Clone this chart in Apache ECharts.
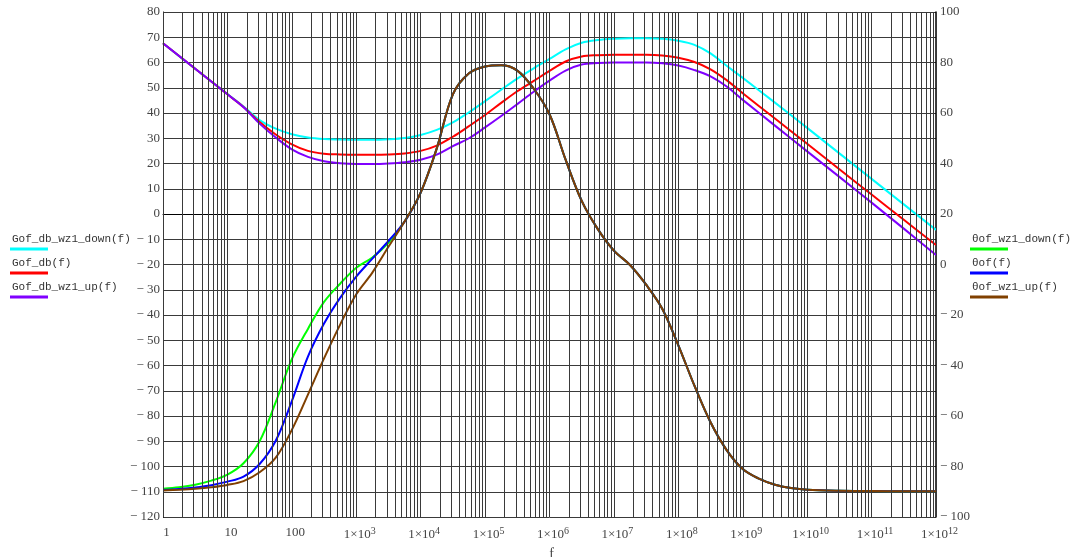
<!DOCTYPE html>
<html><head><meta charset="utf-8">
<script src="https://cdn.jsdelivr.net/npm/echarts@6/dist/echarts.min.js"></script>
<style>html,body{margin:0;padding:0;background:#fff}#c{width:1075px;height:557px}</style>
</head><body><div id="c"></div>
<script>
// ---- data (x given as log10 of frequency f) ----
const magLogF = [0,0.5,1,1.25,1.5,1.75,2,2.25,2.5,2.75,3,3.25,3.5,3.75,4,4.25,4.5,4.75,5,5.25,5.5,5.75,6,6.25,6.5,6.75,7,7.25,7.5,7.75,8,8.25,8.5,8.75,9,9.5,10,10.5,11,11.5,12];
const gofDbDown = [67.6,57.5,47.5,42.6,37.2,33.8,31.6,30.3,29.7,29.5,29.4,29.4,29.6,30.1,31.3,33.3,36.3,40.3,44.7,49.2,53.6,57.6,61.4,65.2,67.8,68.9,69.4,69.6,69.6,69.4,68.6,67.0,63.6,58.7,53.9,44.1,34.1,24.0,13.9,3.8,-6.3];
const gofDb = [67.6,57.5,47.4,42.4,36.4,31.5,27.6,25.0,23.9,23.6,23.5,23.5,23.6,24.0,25.0,27.1,30.6,34.8,39.2,44.0,48.6,52.6,56.7,60.4,62.4,62.9,63.1,63.1,63.1,62.8,61.9,60.2,57.3,53.0,47.8,37.8,27.8,17.7,7.7,-2.3,-12.3];
const gofDbUp = [67.6,57.5,47.4,42.3,35.8,30.3,25.6,22.6,20.9,20.1,19.8,19.8,20.0,20.5,21.5,23.5,26.9,30.0,34.3,38.8,43.5,48.3,52.8,56.8,59.2,59.8,60.0,60.0,60.0,59.7,58.8,57.0,54.5,50.5,45.2,35.0,24.8,14.7,4.5,-5.8,-16.2];

const phHeadLogF = [0,0.25,0.5,0.75,1,1.25,1.5,1.75,2,2.25,2.5,2.75,3,3.25,3.5];
const thetaDownHead = [-88.8,-88.2,-87.2,-85.6,-83.2,-78.7,-70.0,-54.5,-37.5,-25.5,-14.8,-7.6,-1.3,2.8,8.6];
const thetaHead = [-89.3,-88.9,-88.3,-87.4,-86.0,-84.0,-79.0,-69.8,-54.1,-36.5,-23.4,-13.2,-4.8,2.3,9.3];
const thetaUpHead = [-89.5,-89.2,-88.8,-88.2,-87.3,-85.8,-82.3,-76.5,-65.5,-51.5,-37.2,-23.8,-11.8,-3.2,7.0];
const phTailLogF = [3.75,4,4.25,4.5,4.75,5,5.25,5.5,5.75,6,6.25,6.5,6.75,7,7.25,7.5,7.75,8,8.25,8.5,8.75,9,9.25,9.5,9.75,10,10.5,11,11.5,12];
const thetaTail = [17,28.5,46,67.4,75.7,78.4,78.9,76.8,69.8,59.5,41.5,25.2,14,5.5,-0.2,-8,-17.5,-32,-48,-62.5,-73.5,-81,-84.8,-87.2,-88.5,-89.2,-89.6,-89.7,-89.8,-89.8];

const xDecades = [0,1,2,3,4,5,6,7,8,9,10,11,12];
const leftTicks = {min:-120, max:80, step:10};
const rightTicks = {min:-100, max:100, step:20};

const magNames = ['Gof_db_wz1_down(f)','Gof_db(f)','Gof_db_wz1_up(f)'];
const phNames = ['θof_wz1_down(f)','θof(f)','θof_wz1_up(f)'];
const magColors = ['#00FFFF','#FF0000','#8000FF'];
const phColors = ['#00FF00','#0000FF','#804000'];

// ---- build ----
const chart = echarts.init(document.getElementById('c'), null, {renderer:'canvas'});
const toPts = (lf, vals) => lf.map((x,i)=>[Math.pow(10,x), vals[i]]);
const gridLines = [];
xDecades.forEach(n => {
  gridLines.push({xAxis: Math.pow(10,n)});
  if (n < 12) for (let k=2;k<=9;k++) gridLines.push({xAxis: k*Math.pow(10,n)});
});
function fmtNeg(v){ return v < 0 ? '\u2212 ' + Math.abs(v) : String(v); }

const serif = 'Liberation Serif';
const mono = 'Liberation Mono';
const labelColor = '#444';
const gridColor = '#3a3a3a';

const magSeries = [gofDbDown, gofDb, gofDbUp].map((d,i)=>({
  name: magNames[i], type:'line', xAxisIndex:0, yAxisIndex:0,
  data: toPts(magLogF, d), smooth:0.35, showSymbol:false, symbol:'none',
  lineStyle:{color:magColors[i], width:2}, itemStyle:{color:magColors[i]}, z:3
}));
const phSeries = [thetaDownHead, thetaHead, thetaUpHead].map((h,i)=>({
  name: phNames[i], type:'line', xAxisIndex:0, yAxisIndex:1,
  data: toPts(phHeadLogF, h).concat(toPts(phTailLogF, thetaTail)),
  smooth:0.35, showSymbol:false, symbol:'none',
  lineStyle:{color:phColors[i], width:2}, itemStyle:{color:phColors[i]}, z:4
}));

const gridSeries = {
  type:'line', xAxisIndex:0, yAxisIndex:0, data:[], silent:true, z:1,
  markLine:{silent:true, symbol:['none','none'], animation:false, label:{show:false},
    lineStyle:{color:gridColor, width:1, type:'solid'}, emphasis:{disabled:true}, data: gridLines}
};

function legendBlock(x, y, names, colors){
  const els = [];
  names.forEach((n,i)=>{
    const ty = y + i*24;
    els.push({type:'text', left:x+2, top:ty+1, style:{text:n, font:'11px "'+mono+'"', fill:'#333'}});
    els.push({type:'line', shape:{x1:x, y1:ty+16, x2:x+38, y2:ty+16}, style:{stroke:colors[i], lineWidth:3}});
  });
  return els;
}

const option = {
  animation:false,
  backgroundColor:'#fff',
  grid:{left:163, right:139, top:12, bottom:40, containLabel:false, outerBoundsMode:'none'},
  xAxis:[
    {type:'log', logBase:10, min:1, max:1e12,
     name:'f', nameLocation:'middle', nameGap:30,
     nameTextStyle:{fontFamily:serif, fontSize:14, color:labelColor, padding:[0,0,0,4]},
     axisLine:{show:true, lineStyle:{color:'#000', width:1}},
     axisTick:{show:false}, splitLine:{show:false}, minorTick:{show:false}, minorSplitLine:{show:false},
     axisLabel:{show:false}},
    // label axis: decade exponents 0..12 spanning the same width
    {type:'value', position:'bottom', min:xDecades[0], max:xDecades[xDecades.length-1], interval:1,
     axisLine:{show:false}, axisTick:{show:false}, splitLine:{show:false},
     axisLabel:{margin:9, fontFamily:serif, fontSize:13, color:labelColor, showMinLabel:true, showMaxLabel:true,
      padding:[0,0,0,7],
      formatter:function(e){
        if (e===0) return '1';
        if (e===1) return '10';
        if (e===2) return '100';
        return '{a|1×10}{s|'+e+'}';
      },
      rich:{a:{fontFamily:serif, fontSize:13, color:labelColor},
            s:{fontFamily:serif, fontSize:10, color:labelColor, verticalAlign:'bottom', padding:[0,0,7,0]}}
     }}
  ],
  yAxis:[
    {type:'value', position:'left', min:leftTicks.min, max:leftTicks.max, interval:leftTicks.step,
     axisLine:{show:true, lineStyle:{color:'#000', width:1}}, axisTick:{show:false},
     splitLine:{show:true, lineStyle:{color:gridColor, width:1}},
     axisLabel:{margin:3, fontFamily:serif, fontSize:13, color:labelColor, formatter:fmtNeg}},
    {type:'value', position:'right', min:rightTicks.min, max:rightTicks.max, interval:rightTicks.step,
     axisLine:{show:true, lineStyle:{color:'#000', width:1.5}}, axisTick:{show:false},
     splitLine:{show:false},
     axisLabel:{margin:4, fontFamily:serif, fontSize:13, color:labelColor, formatter:fmtNeg}}
  ],
  series:[gridSeries].concat(magSeries, phSeries),
  graphic: legendBlock(10, 233, magNames, magColors).concat(legendBlock(970, 233, phNames, phColors))
};
chart.setOption(option);
</script></body></html>
